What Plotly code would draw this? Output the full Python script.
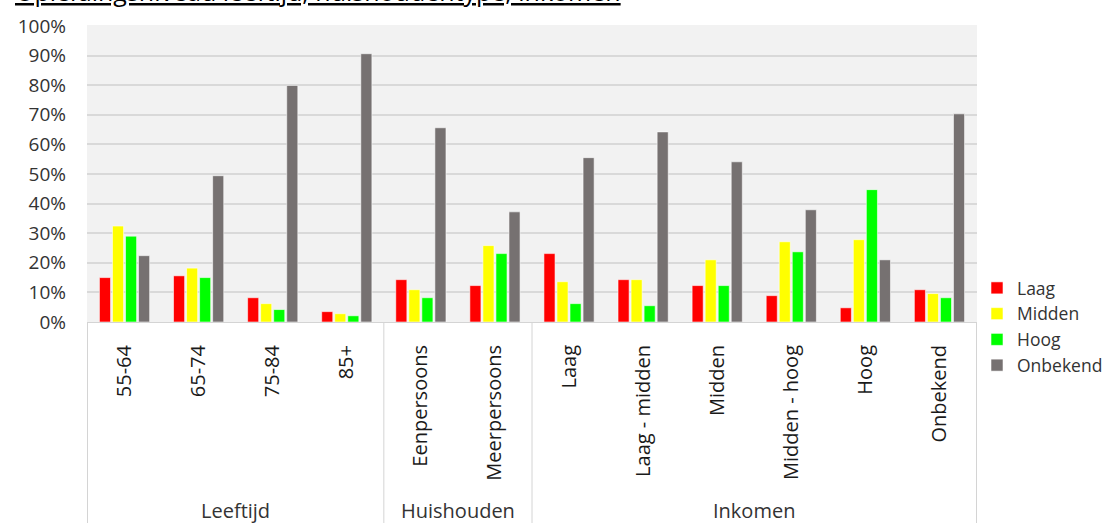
import plotly.graph_objects as go

# Categories along the x axis and the group each one belongs to
categories = ["55-64", "65-74", "75-84", "85+",
              "Eenpersoons", "Meerpersoons",
              "Laag", "Laag - midden", "Midden", "Midden - hoog", "Hoog", "Onbekend"]
group_names = ["Leeftijd", "Huishouden", "Inkomen"]
group_sizes = [4, 2, 6]

# Share per education level (%)
laag = [15.0, 15.6, 8.2, 3.5, 14.3, 12.3, 23.1, 14.3, 12.3, 8.9, 4.8, 10.9]
midden = [32.4, 18.2, 6.2, 2.8, 10.9, 25.8, 13.6, 14.3, 21.0, 27.1, 27.8, 9.6]
hoog = [29.0, 15.0, 4.2, 2.1, 8.2, 23.1, 6.2, 5.5, 12.3, 23.7, 44.7, 8.2]
onbekend = [22.4, 49.4, 79.9, 90.6, 65.6, 37.2, 55.5, 64.2, 54.1, 37.9, 21.0, 70.3]

series = [("Laag", laag, "#ff0000"),
          ("Midden", midden, "#ffff00"),
          ("Hoog", hoog, "#00ff00"),
          ("Onbekend", onbekend, "#767171")]

W, H = 1120, 523
ML, MR, MT, MB = 87, 141, 25, 201
PH = H - MT - MB
FONT = "Open Sans"
TXT = "#333333"

fig = go.Figure()
for name, vals, col in series:
    fig.add_trace(go.Bar(
        x=categories, y=vals, name=name,
        marker=dict(color=col, line=dict(color="rgba(255,255,255,0.7)", width=0.8)),
    ))

def py_to_paper(py):
    return 1 - (py - MT) / PH

# Vertical dividers of the category table under the plot
bounds = [-0.5]
for n in group_sizes:
    bounds.append(bounds[-1] + n)
shapes = []
for b in bounds:
    shapes.append(dict(type="line", xref="x", yref="paper", x0=b, x1=b,
                       y0=0, y1=py_to_paper(H + 2),
                       line=dict(color="#d4d4d4", width=1)))

annotations = []
for i, g in enumerate(group_names):
    cx = (bounds[i] + bounds[i + 1]) / 2
    annotations.append(dict(x=cx, xref="x", y=py_to_paper(510), yref="paper",
                            text=g, showarrow=False, xanchor="center", yanchor="middle",
                            font=dict(family=FONT, size=20, color=TXT)))

annotations.append(dict(
    x=(13 - ML) / (W - ML - MR), xref="paper", y=py_to_paper(10), yref="paper",
    text="<u>Opleidingsniveau leeftijd, huishoudentype, inkomen</u>",
    showarrow=False, xanchor="left", yanchor="bottom",
    font=dict(family=FONT, size=25, color="#000000")))

fig.update_layout(
    width=W, height=H,
    margin=dict(l=ML, r=MR, t=MT, b=MB, pad=0),
    paper_bgcolor="white", plot_bgcolor="#f2f2f2",
    barmode="group", bargap=0.296, bargroupgap=0.15,
    font=dict(family=FONT, size=20, color=TXT),
    legend=dict(x=1.0, xanchor="left", y=py_to_paper(270), yanchor="top",
                font=dict(family=FONT, size=17.5, color=TXT),
                bgcolor="rgba(0,0,0,0)", tracegroupgap=0),
    shapes=shapes, annotations=annotations,
)
fig.update_yaxes(range=[0, 100.3], dtick=10, ticksuffix="%",
                 showgrid=True, gridcolor="#d9d9d9", gridwidth=2,
                 zeroline=False, showline=False, ticklabelstandoff=20,
                 tickfont=dict(family=FONT, size=19, color=TXT))
fig.update_xaxes(type="category", tickangle=-90, showgrid=False,
                 showline=True, linecolor="#d4d4d4", linewidth=1,
                 ticklabelstandoff=14,
                 tickfont=dict(family=FONT, size=20, color="#1a1a1a"))

fig.write_html("out.html")
